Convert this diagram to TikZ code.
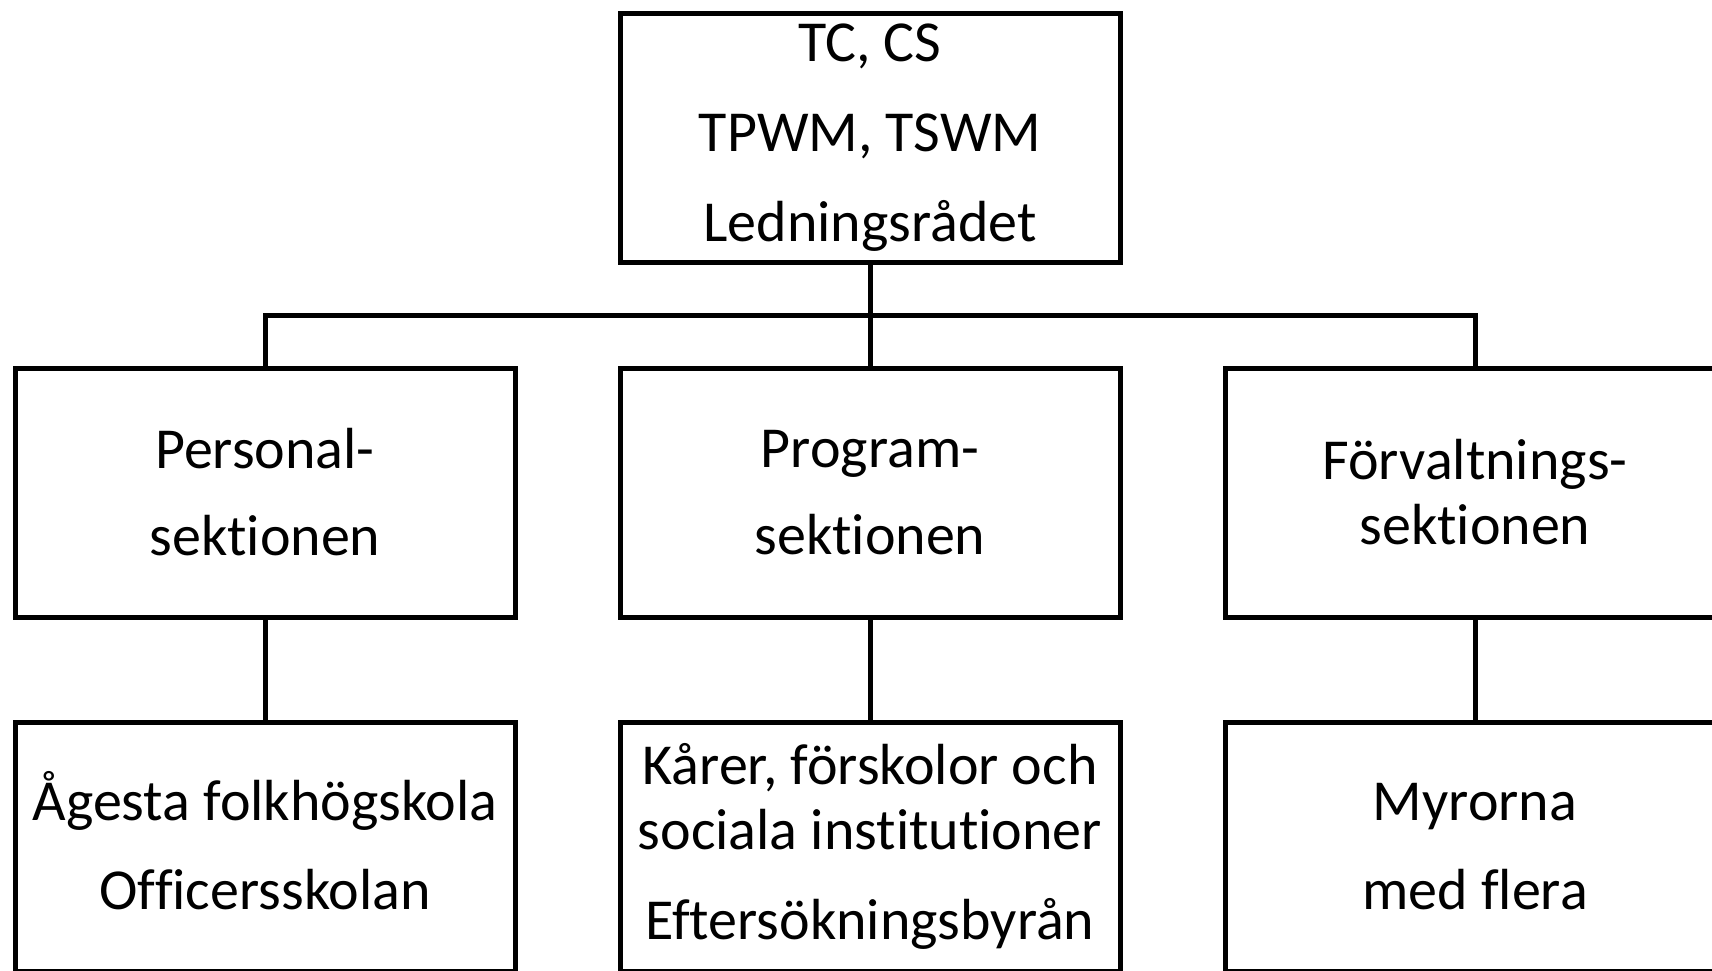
\documentclass[tikz,border=0pt]{standalone}
\usepackage{fontspec}
\setmainfont[Ligatures=NoCommon]{Carlito}
\begin{document}
\begin{tikzpicture}[x=0.5pt,y=-0.5pt,
  box/.style={draw=black,line width=2.5pt,minimum width=250pt,minimum height=124.5pt,
    inner sep=0pt,align=center,font=\fontsize{29}{32.5}\selectfont,fill=white},
  conn/.style={draw=black,line width=2.5pt}]
\useasboundingbox (0,0) rectangle (1712,970);
\clip (0,0) rectangle (1712,970);
\fill[white] (0,0) rectangle (1712,970);
\node[box] (top) at (870,137.5) {TC, CS\\[12.5pt]TPWM, TSWM\\[12.5pt]Ledningsrådet};
\node[box] (pers) at (265,492.5) {Personal-\\[11pt]sektionen};
\node[box] (prog) at (870,492.5) {Program-\\[11pt]sektionen};
\node[box] (forv) at (1475,492.5) {Förvaltnings-\\sektionen};
\node[box] (ages) at (265,846.5) {Ågesta folkhögskola\\[12pt]Officersskolan\rule[-6.5pt]{0pt}{6.5pt}};
\node[box] (kare) at (870,846.5) {Kårer, förskolor och\\sociala institutioner\\[12.5pt]Eftersökningsbyrån};
\node[box] (myr) at (1475,846.5) {Myrorna\\[12pt]med flera};
\coordinate (bus) at (870,315);
\draw[conn] (top.south) -- (prog.north);
\draw[conn] (pers.north) |- (bus) -| (forv.north);
\draw[conn] (pers.south) -- (ages.north);
\draw[conn] (prog.south) -- (kare.north);
\draw[conn] (forv.south) -- (myr.north);
\end{tikzpicture}
\end{document}
